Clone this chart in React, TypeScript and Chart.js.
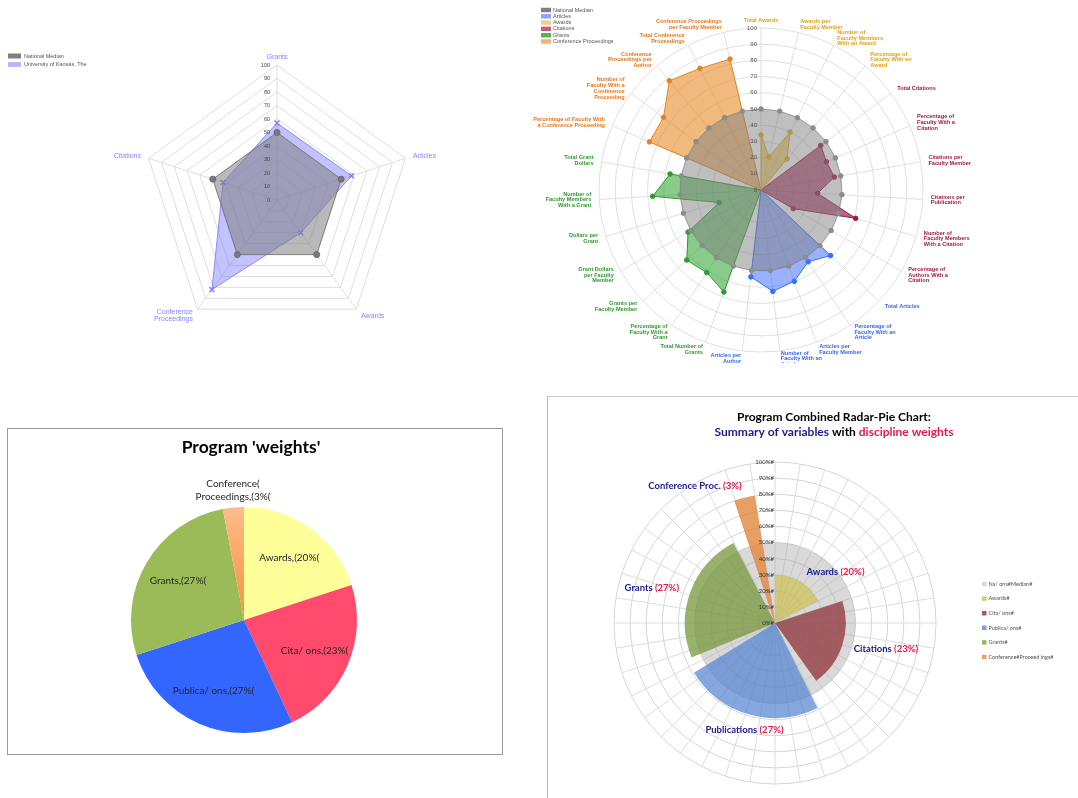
import React, { useEffect, useRef } from 'react';
import { Chart, registerables } from 'chart.js';

Chart.register(...registerables);

// ---------------- Panel 1: overview radar ----------------
const overviewAxes: string[][] = [['Grants'], ['Articles'], ['Awards'], ['Conference', 'Proceedings'], ['Citations']];
const overviewMedian = [50, 50, 50, 50, 50];
const overviewKansas = [57, 58, 30, 82, 42];
const overviewSeries = ['National Median', 'University of Kansas, The'];

// ---------------- Panel 2: detailed radar ----------------
const detailAxes: string[][] = [
  ['Total Awards'],
  ['Awards per', 'Faculty Member'],
  ['Number of', 'Faculty Members', 'With an Award'],
  ['Percentage of', 'Faculty With an', 'Award'],
  ['Total Citations'],
  ['Percentage of', 'Faculty With a', 'Citation'],
  ['Citations per', 'Faculty Member'],
  ['Citations per', 'Publication'],
  ['Number of', 'Faculty Members', 'With a Citation'],
  ['Percentage of', 'Authors With a', 'Citation'],
  ['Total Articles'],
  ['Percentage of', 'Faculty With an', 'Article'],
  ['Articles per', 'Faculty Member'],
  ['Number of', 'Faculty With an', 'Article'],
  ['Articles per', 'Author'],
  ['Total Number of', 'Grants'],
  ['Percentage of', 'Faculty With a', 'Grant'],
  ['Grants per', 'Faculty Member'],
  ['Grant Dollars', 'per Faculty', 'Member'],
  ['Dollars per', 'Grant'],
  ['Number of', 'Faculty Members', 'With a Grant'],
  ['Total Grant', 'Dollars'],
  ['Percentage of Faculty With', 'a Conference Proceeding'],
  ['Number of', 'Faculty With a', 'Conference', 'Proceeding'],
  ['Conference', 'Proceedings per', 'Author'],
  ['Total Conference', 'Proceedings'],
  ['Conference Proceedings', 'per Faculty Member'],
];
const detailAxisGroup = [
  'Awards', 'Awards', 'Awards', 'Awards',
  'Citations', 'Citations', 'Citations', 'Citations', 'Citations', 'Citations',
  'Articles', 'Articles', 'Articles', 'Articles', 'Articles',
  'Grants', 'Grants', 'Grants', 'Grants', 'Grants', 'Grants', 'Grants',
  'Conference Proceedings', 'Conference Proceedings', 'Conference Proceedings', 'Conference Proceedings', 'Conference Proceedings',
];
const detailSeries = ['National Median', 'Articles', 'Awards', 'Citations', 'Grants', 'Conference Proceedings'];
const detailMedian = [50, 50, 50, 50, 50, 50, 50, 50, 50, 50, 50, 50, 50, 50, 50, 50, 50, 50, 50, 50, 50, 50, 50, 50, 50, 50, 50];
const detailArticles = [0, 0, 0, 0, 0, 0, 0, 0, 0, 0, 59, 53, 60, 63, 54, 0, 0, 0, 0, 0, 0, 0, 0, 0, 0, 0, 0];
const detailAwards = [34, 21, 40, 25, 0, 0, 0, 0, 0, 0, 0, 0, 0, 0, 0, 0, 0, 0, 0, 0, 0, 0, 0, 0, 0, 0, 0];
const detailCitations = [0, 0, 0, 0, 46, 44, 46, 35, 61, 23, 0, 0, 0, 0, 0, 0, 0, 0, 0, 0, 0, 0, 0, 0, 0, 0, 0];
const detailGrants = [0, 0, 0, 0, 0, 0, 0, 0, 0, 0, 0, 0, 0, 0, 0, 67, 61, 63, 52, 27, 67, 57, 0, 0, 0, 0, 0];
const detailConference = [0, 0, 0, 0, 0, 0, 0, 0, 0, 0, 0, 0, 0, 0, 0, 0, 0, 0, 0, 0, 0, 0, 75, 75, 88, 84, 83];

// ---------------- Panel 3: weights pie ----------------
const weightNames: string[][] = [['Awards'], ['Cita/ ons'], ['Publica/ ons'], ['Grants'], ['Conference(', 'Proceedings']];
const weightValues = [20, 23, 27, 27, 3];
const pieTitle = "Program 'weights'";

// ---------------- Panel 4: combined radar-pie ----------------
const combinedNames = ['Awards', 'Citations', 'Publications', 'Grants', 'Conference Proc.'];
const combinedScores = [30, 44, 59, 56, 80];
const combinedMedian = [50];
const combinedLegend = ['Na/ ons#Median#', 'Awards#', 'Cita/ ons#', 'Publica/ ons#', 'Grants#', 'Conference#Proceed ings#'];

// ---------------- styles ----------------
const groupLabelColor: Record<string, string> = {
  Awards: '#e0a21c',
  Citations: '#9c1c4a',
  Articles: '#3a68f2',
  Grants: '#2f9a2f',
  'Conference Proceedings': '#e5781e',
};
const detailStyle = [
  { fill: 'rgba(128,128,128,0.5)', line: 'rgba(120,120,120,0.6)', point: '#8c8c8c', legend: '#7f7f7f' },
  { fill: 'rgba(51,102,255,0.5)', line: '#3f6cff', point: '#3f6cff', legend: '#8aa6ff' },
  { fill: 'rgba(235,180,40,0.6)', line: '#e6a823', point: '#e6a823', legend: '#f2d08a' },
  { fill: 'rgba(150,20,70,0.65)', line: '#9c1c4a', point: '#9c1c4a', legend: '#c0607f' },
  { fill: 'rgba(40,160,40,0.55)', line: '#2f9a2f', point: '#2f9a2f', legend: '#4cb84c' },
  { fill: 'rgba(230,140,40,0.6)', line: '#e5841e', point: '#e5841e', legend: '#f2b27a' },
];
const pieColors = ['#ffff99', '#ff4a6e', '#3366ff', '#9bbb59', '#f9a870'];
const sectorFills = ['rgba(205,190,70,0.65)', 'rgba(150,70,75,0.85)', 'rgba(80,130,210,0.7)', 'rgba(120,150,60,0.75)', 'rgba(225,135,60,0.8)'];
const sectorLegend = ['#d9d9d9', '#d6cc6e', '#a65a5e', '#7aa0dc', '#9bb561', '#eba066'];
const NAVY = '#1c1c8c';
const CRIMSON = '#e8184a';

// ---------------- helpers ----------------
function placeCenter(cx: number, cy: number, R: number) {
  return (scale: any) => {
    scale.xCenter = cx;
    scale.yCenter = cy;
    scale.drawingArea = R;
  };
}

function drawAxisLabels(chart: any, labels: string[][], colors: string[], font: string, lineH: number, pad: number) {
  const s = chart.scales.r;
  const ctx = chart.ctx;
  ctx.save();
  ctx.font = font;
  ctx.textBaseline = 'middle';
  labels.forEach((lines, i) => {
    const p = s.getPointPosition(i, s.drawingArea + pad);
    const sn = Math.sin(s.getIndexAngle(i));
    ctx.textAlign = sn > 0.05 ? 'left' : sn < -0.05 ? 'right' : 'center';
    ctx.fillStyle = colors[i];
    const y0 = p.y - ((lines.length - 1) * lineH) / 2;
    lines.forEach((t, k) => ctx.fillText(t, p.x, y0 + k * lineH));
  });
  ctx.restore();
}

function drawTickLabels(chart: any, font: string, color: string, dx: number, fmt: (v: number) => string) {
  const s = chart.scales.r;
  const ctx = chart.ctx;
  ctx.save();
  ctx.font = font;
  ctx.fillStyle = color;
  ctx.textAlign = 'right';
  ctx.textBaseline = 'middle';
  s.ticks.forEach((t: any) => {
    const d = s.getDistanceFromCenterForValue(t.value);
    ctx.fillText(fmt(t.value), s.xCenter - dx, s.yCenter - d);
  });
  ctx.restore();
}

function drawLegend(
  ctx: CanvasRenderingContext2D,
  items: { label: string; color: string }[],
  x: number, y: number, step: number, bw: number, bh: number, font: string, textColor: string, gap: number,
) {
  ctx.save();
  ctx.font = font;
  ctx.textAlign = 'left';
  ctx.textBaseline = 'middle';
  items.forEach((it, i) => {
    const yy = y + i * step;
    ctx.fillStyle = it.color;
    ctx.fillRect(x, yy - bh / 2, bw, bh);
    ctx.fillStyle = textColor;
    ctx.fillText(it.label, x + bw + gap, yy);
  });
  ctx.restore();
}

const baseOptions = {
  responsive: false,
  animation: false,
  events: [] as string[],
  plugins: { legend: { display: false }, tooltip: { enabled: false } },
};

// ---------------- chart builders ----------------
const buildOverview = () => ({
  type: 'radar',
  data: {
    labels: overviewAxes,
    datasets: [
      {
        label: overviewSeries[0], data: overviewMedian, fill: true,
        backgroundColor: 'rgba(128,128,128,0.55)', borderColor: 'rgba(110,110,110,0.8)', borderWidth: 1,
        pointRadius: 3, pointBackgroundColor: '#7a7a7a', pointBorderColor: '#6a6a6a',
      },
      {
        label: overviewSeries[1], data: overviewKansas, fill: true,
        backgroundColor: 'rgba(120,120,255,0.45)', borderColor: 'rgba(130,130,255,0.9)', borderWidth: 1,
        pointRadius: 3.5, pointStyle: 'crossRot', pointBorderColor: '#8080ff', pointBorderWidth: 1.5,
      },
    ],
  },
  options: {
    ...baseOptions,
    elements: { line: { tension: 0 } },
    scales: {
      r: {
        min: 0, max: 100,
        ticks: { display: false, stepSize: 10 },
        pointLabels: { display: false },
        grid: { color: '#dedede' },
        angleLines: { color: '#dedede' },
        afterUpdate: placeCenter(277, 200, 135),
      },
    },
  },
  plugins: [{
    id: 'overviewDecor',
    afterDatasetsDraw(chart: any) {
      drawTickLabels(chart, '5.5px "Liberation Sans"', '#444', 7, (v) => String(v));
      drawAxisLabels(chart, overviewAxes, overviewAxes.map(() => '#8686ff'), '7px "Liberation Sans"', 7, 8);
      drawLegend(chart.ctx, [
        { label: overviewSeries[0], color: '#808080' },
        { label: overviewSeries[1], color: '#b8b8ff' },
      ], 8, 56, 8.5, 13, 5, '5.5px "Liberation Sans"', '#555', 3);
    },
  }],
});

const buildDetail = () => {
  const series = [detailMedian, detailArticles, detailAwards, detailCitations, detailGrants, detailConference];
  return {
    type: 'radar',
    data: {
      labels: detailAxes,
      datasets: series.map((d, i) => ({
        label: detailSeries[i], data: d, fill: true,
        backgroundColor: detailStyle[i].fill, borderColor: detailStyle[i].line, borderWidth: 1,
        pointRadius: (c: any) => (c.raw === 0 ? 0 : 2.3),
        pointBackgroundColor: detailStyle[i].point, pointBorderColor: detailStyle[i].point,
      })),
    },
    options: {
      ...baseOptions,
      elements: { line: { tension: 0 } },
      scales: {
        r: {
          min: 0, max: 100,
          ticks: { display: false, stepSize: 10 },
          pointLabels: { display: false },
          grid: { color: '#e0e0e0', circular: true },
          angleLines: { color: '#e0e0e0' },
          afterUpdate: placeCenter(251, 190, 162),
        },
      },
    },
    plugins: [{
      id: 'detailDecor',
      afterDatasetsDraw(chart: any) {
        drawTickLabels(chart, '6px "Liberation Sans"', '#555', 4, (v) => String(v));
        drawAxisLabels(chart, detailAxes, detailAxisGroup.map((g) => groupLabelColor[g]), 'bold 5.6px "Liberation Sans"', 5.8, 8);
        drawLegend(chart.ctx, detailSeries.map((s, i) => ({ label: s, color: detailStyle[i].legend })),
          31, 10, 6.3, 10, 4.5, '5.5px "Liberation Sans"', '#555', 2);
      },
    }],
  };
};

const buildWeights = () => ({
  type: 'pie',
  data: {
    labels: weightNames.map((n) => n.join(' ')),
    datasets: [{
      data: weightValues,
      borderWidth: 0,
      hoverOffset: 0,
      backgroundColor: (c: any) => {
        if (c.dataIndex !== 4) return pieColors[c.dataIndex];
        const area = c.chart.chartArea;
        if (!area) return pieColors[4];
        const g = c.chart.ctx.createLinearGradient(0, area.top, 0, (area.top + area.bottom) / 2);
        g.addColorStop(0, '#fdbb8c');
        g.addColorStop(1, '#f7923c');
        return g;
      },
    }],
  },
  options: {
    ...baseOptions,
    layout: { padding: { left: 131, top: 117, right: 188, bottom: 65 } },
  },
  plugins: [{
    id: 'weightsDecor',
    afterDatasetsDraw(chart: any) {
      const ctx = chart.ctx;
      const meta = chart.getDatasetMeta(0);
      ctx.save();
      ctx.font = 'bold 17.5px Lato';
      ctx.fillStyle = '#000';
      ctx.textAlign = 'center';
      ctx.textBaseline = 'middle';
      ctx.fillText(pieTitle, 251, 57);
      ctx.font = '10px Lato';
      ctx.fillStyle = '#262626';
      meta.data.forEach((arc: any, i: number) => {
        const { x, y, startAngle, endAngle, outerRadius } = arc;
        const mid = (startAngle + endAngle) / 2;
        const lines = [...weightNames[i]];
        lines[lines.length - 1] += `,(${weightValues[i]}%(`;
        const outside = weightValues[i] < 5;
        const r = outside ? outerRadius + 4 : outerRadius * 0.68;
        const ax = x + Math.cos(mid) * r;
        const ay = y + Math.sin(mid) * r;
        const lh = 13;
        const y0 = outside ? ay - (lines.length - 0.5) * lh : ay - ((lines.length - 1) * lh) / 2;
        lines.forEach((t, k) => ctx.fillText(t, ax, y0 + k * lh));
      });
      ctx.restore();
    },
  }],
});

const buildCombined = () => {
  const GAP = 9;
  const usable = 360 - GAP * combinedNames.length;
  const values: number[] = [];
  const angles: number[] = [];
  const fills: string[] = [];
  const labels: string[] = [];
  combinedNames.forEach((n, i) => {
    values.push(combinedScores[i], 0);
    angles.push((weightValues[i] / 100) * usable, GAP);
    fills.push(sectorFills[i], 'rgba(0,0,0,0)');
    labels.push(n, '');
  });
  return {
    type: 'polarArea',
    data: {
      labels,
      datasets: [
        { data: values, backgroundColor: fills, borderWidth: 0, angle: (c: any) => angles[c.dataIndex] },
        { data: combinedMedian, backgroundColor: 'rgba(160,160,160,0.4)', borderWidth: 0 },
      ],
    },
    options: {
      ...baseOptions,
      scales: {
        r: {
          min: 0, max: 100,
          ticks: { display: false, stepSize: 10 },
          pointLabels: { display: false },
          angleLines: { display: false },
          grid: { color: '#d6d6d6', circular: true },
          afterUpdate: placeCenter(230, 233, 161),
        },
      },
    },
    plugins: [{
      id: 'combinedDecor',
      beforeDatasetsDraw(chart: any) {
        const s = chart.scales.r;
        const ctx = chart.ctx;
        ctx.save();
        ctx.strokeStyle = '#dcdcdc';
        ctx.lineWidth = 1;
        const spokes = 40;
        for (let k = 0; k < spokes; k++) {
          const a = -Math.PI / 2 + (k * 2 * Math.PI) / spokes;
          ctx.beginPath();
          ctx.moveTo(s.xCenter, s.yCenter);
          ctx.lineTo(s.xCenter + Math.cos(a) * s.drawingArea, s.yCenter + Math.sin(a) * s.drawingArea);
          ctx.stroke();
        }
        ctx.restore();
      },
      afterDatasetsDraw(chart: any) {
        const ctx = chart.ctx;
        drawTickLabels(chart, '6px Lato', '#333', 1, (v) => `${v}%#`);
        // title
        ctx.save();
        ctx.font = 'bold 12px Lato';
        ctx.textBaseline = 'middle';
        ctx.textAlign = 'center';
        ctx.fillStyle = '#000';
        ctx.fillText('Program Combined Radar-Pie Chart:', 289, 27);
        const parts: [string, string][] = [['Summary of variables ', NAVY], ['with ', '#000'], ['discipline weights', CRIMSON]];
        const total = parts.reduce((acc, p) => acc + ctx.measureText(p[0]).width, 0);
        let sx = 289 - total / 2;
        ctx.textAlign = 'left';
        parts.forEach(([t, c]) => {
          ctx.fillStyle = c;
          ctx.fillText(t, sx, 42);
          sx += ctx.measureText(t).width;
        });
        // sector labels
        ctx.font = 'bold 9.5px Lato';
        const meta = chart.getDatasetMeta(0);
        combinedNames.forEach((name, i) => {
          const arc: any = meta.data[i * 2];
          const { x, y, startAngle, endAngle, outerRadius } = arc;
          const mid = (startAngle + endAngle) / 2;
          const c = Math.cos(mid);
          const sn = Math.sin(mid);
          const bottom = sn > 0.9;
          const r = outerRadius + (bottom ? 16 : 12);
          const ax = x + c * r;
          const ay = y + sn * r;
          const p1 = name + ' ';
          const p2 = `(${weightValues[i]}%)`;
          const w1 = ctx.measureText(p1).width;
          const w2 = ctx.measureText(p2).width;
          const lx = bottom ? ax - (w1 + w2) / 2 : c >= 0 ? ax : ax - w1 - w2;
          ctx.textBaseline = 'middle';
          ctx.fillStyle = NAVY;
          ctx.fillText(p1, lx, ay);
          ctx.fillStyle = CRIMSON;
          ctx.fillText(p2, lx + w1, ay);
        });
        ctx.restore();
        drawLegend(ctx, combinedLegend.map((l, i) => ({ label: l, color: sectorLegend[i] })),
          437, 194, 14.6, 4.5, 4.5, '5.5px Lato', '#505050', 2);
      },
    }],
  };
};

// ---------------- components ----------------
type Box = { left: number; top: number; width: number; height: number };

function ChartBox({ box, build }: { box: Box; build: () => any }) {
  const ref = useRef<HTMLCanvasElement | null>(null);
  useEffect(() => {
    if (!ref.current) return;
    const chart = new Chart(ref.current, build());
    return () => chart.destroy();
  }, []);
  return (
    <div style={{ position: 'absolute', left: box.left, top: box.top, width: box.width, height: box.height }}>
      <canvas ref={ref} width={box.width} height={box.height} style={{ display: 'block' }} />
    </div>
  );
}

export default function App() {
  return (
    <div style={{ position: 'absolute', left: 0, top: 0, width: 1078, height: 798, overflow: 'hidden', background: '#fff' }}>
      <div style={{ position: 'absolute', left: 7, top: 428, width: 496, height: 327, border: '1px solid #9a9a9a', boxSizing: 'border-box' }} />
      <div style={{ position: 'absolute', left: 547, top: 396, width: 600, height: 500, borderLeft: '1px solid #b4b4b4', borderTop: '1px solid #c8c8c8' }} />
      <ChartBox box={{ left: 0, top: 0, width: 510, height: 390 }} build={buildOverview} />
      <ChartBox box={{ left: 510, top: 0, width: 568, height: 363 }} build={buildDetail} />
      <ChartBox box={{ left: 0, top: 390, width: 545, height: 408 }} build={buildWeights} />
      <ChartBox box={{ left: 545, top: 390, width: 533, height: 408 }} build={buildCombined} />
    </div>
  );
}
